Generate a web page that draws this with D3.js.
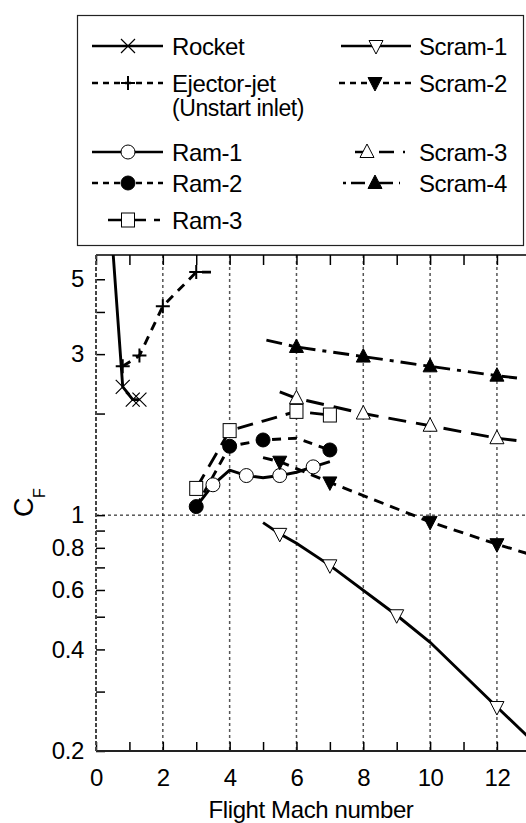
<!DOCTYPE html>
<html>
<head>
<meta charset="utf-8">
<script src="https://cdn.jsdelivr.net/npm/d3@7"></script>
<style>
  body { margin: 0; background: #fff; }
  text { font-family: "Liberation Sans", Arial, sans-serif; letter-spacing: -0.4px; }
</style>
</head>
<body>
<script>
// flight Mach number vs thrust coefficient C_F (log scale)
// each point: [mach, cf, hasMarker]
const rocket = [[0.5, 6.2, 0], [0.8, 2.4, 1], [1.1, 2.2, 1], [1.3, 2.2, 1]];
const ejector = [[0.8, 2.76, 1], [1.3, 2.97, 1], [2, 4.16, 1], [3, 5.25, 1], [3.5, 5.25, 0]];
const ram1 = [[3, 1.06, 0], [3.5, 1.23, 1], [4, 1.36, 0], [4.5, 1.31, 1], [5, 1.29, 0], [5.5, 1.31, 1], [6, 1.34, 0], [6.5, 1.39, 1], [7, 1.44, 0]];
const ram2 = [[3, 1.06, 1], [4, 1.6, 1], [5, 1.67, 1], [6, 1.69, 0], [7, 1.56, 1]];
const ram3 = [[3, 1.2, 1], [4, 1.78, 1], [5, 1.9, 0], [6, 2.03, 1], [7, 1.98, 1]];
const scram1 = [[5, 0.95, 0], [5.5, 0.88, 1], [6, 0.825, 0], [7, 0.71, 1], [9, 0.505, 1], [10, 0.42, 0], [12, 0.27, 1], [12.9, 0.222, 0]];
const scram2 = [[5, 1.48, 0], [5.5, 1.44, 1], [7, 1.25, 1], [10, 0.955, 1], [12, 0.82, 1], [12.9, 0.77, 0]];
const scram3 = [[5.5, 2.32, 0], [6, 2.22, 1], [8, 2.0, 1], [10, 1.84, 1], [12, 1.69, 1], [12.9, 1.65, 0]];
const scram4 = [[5.1, 3.3, 0], [6, 3.15, 1], [8, 2.95, 1], [10, 2.76, 1], [12, 2.59, 1], [12.6, 2.55, 0]];

const machTicks = [0, 1, 2, 3, 4, 5, 6, 7, 8, 9, 10, 11, 12];
const machLabels = [0, 2, 4, 6, 8, 10, 12];
const machGrid = [2, 4, 6, 8, 10, 12];
const cfTicks = [0.2, 0.3, 0.4, 0.5, 0.6, 0.7, 0.8, 0.9, 1, 2, 3, 4, 5];
const cfLabels = [0.2, 0.4, 0.6, 0.8, 1, 3, 5];

const series = [
  { name: "Rocket", data: rocket, dash: null, marker: "x" },
  { name: "Ejector-jet", sub: "(Unstart inlet)", data: ejector, dash: "9,7", marker: "plus" },
  { name: "Ram-1", data: ram1, dash: null, marker: "circle" },
  { name: "Ram-2", data: ram2, dash: "9,7", marker: "dot" },
  { name: "Ram-3", data: ram3, dash: "16,9", marker: "square" },
  { name: "Scram-1", data: scram1, dash: null, marker: "triDown" },
  { name: "Scram-2", data: scram2, dash: "10,7", marker: "triDownFilled" },
  { name: "Scram-3", data: scram3, dash: "18,10", marker: "triUp" },
  { name: "Scram-4", data: scram4, dash: "16,7,4,7", marker: "triUpFilled" }
];

const width = 526, height = 823;
const margin = { top: 255, right: 0, bottom: 72, left: 96 };
const plotBottom = height - margin.bottom;

const svg = d3.select("body").append("svg").attr("width", width).attr("height", height);

let x = d3.scaleLinear().domain([0, 12.87]).range([margin.left, width - margin.right]);
let y = d3.scaleLog().domain([0.2, 5.9]).range([plotBottom, margin.top]);

svg.append("clipPath").attr("id", "plot-clip")
  .append("rect")
  .attr("x", margin.left).attr("y", margin.top)
  .attr("width", width - margin.left).attr("height", plotBottom - margin.top);

// grid lines
svg.append("g").selectAll("line").data(machGrid).enter().append("line")
  .attr("x1", d => x(d)).attr("x2", d => x(d))
  .attr("y1", margin.top).attr("y2", plotBottom)
  .attr("stroke", "#555").attr("stroke-width", 1.5).attr("stroke-dasharray", "3,3");
svg.append("line")
  .attr("x1", margin.left).attr("x2", width)
  .attr("y1", y(1)).attr("y2", y(1))
  .attr("stroke", "#000").attr("stroke-width", 1).attr("stroke-dasharray", "3,3");

// markers
let drawMarker = function (g, type, cx, cy) {
  let m = g.append("g").attr("transform", `translate(${cx},${cy})`);
  if (type === "x") {
    m.append("path").attr("d", "M-7,-7L7,7M-7,7L7,-7").attr("stroke", "#000").attr("stroke-width", 1.2);
  } else if (type === "plus") {
    m.append("path").attr("d", "M-7,0H7M0,-7V7").attr("stroke", "#000").attr("stroke-width", 2);
  } else if (type === "circle" || type === "dot") {
    m.append("circle").attr("r", 7).attr("fill", type === "dot" ? "#000" : "#fff").attr("stroke", "#000").attr("stroke-width", 1);
  } else if (type === "square") {
    m.append("rect").attr("x", -6.5).attr("y", -7).attr("width", 13).attr("height", 14).attr("fill", "#fff").attr("stroke", "#000").attr("stroke-width", 1);
  } else {
    let up = type.startsWith("triUp");
    let filled = type.endsWith("Filled");
    m.append("path").attr("d", up ? "M0,-8L7,5.5H-7Z" : "M0,8L7,-5.5H-7Z")
      .attr("fill", filled ? "#000" : "#fff").attr("stroke", "#000").attr("stroke-width", 1);
  }
};

// series lines
let line = d3.line().x(d => x(d[0])).y(d => y(d[1]));
let plot = svg.append("g").attr("clip-path", "url(#plot-clip)");
series.forEach(s => {
  plot.append("path")
    .datum(s.data)
    .attr("d", line)
    .attr("fill", "none")
    .attr("stroke", "#000")
    .attr("stroke-width", 2.9)
    .attr("stroke-dasharray", s.dash);
});
let markers = svg.append("g");
series.forEach(s => {
  s.data.filter(d => d[2]).forEach(d => {
    if (y(d[1]) < margin.top) return;
    drawMarker(markers, s.marker, x(d[0]), y(d[1]));
  });
});

// axes
let styleAxis = function (g) {
  g.select(".domain").remove();
  g.selectAll(".tick line").attr("stroke", "#000").attr("stroke-width", 1.5);
  g.selectAll(".tick text").attr("fill", "#000").attr("font-size", 24)
    .attr("font-family", "'Liberation Sans', Arial, sans-serif");
};

svg.append("g")
  .attr("transform", `translate(0,${plotBottom})`)
  .call(d3.axisBottom(x).tickValues(machTicks).tickSizeInner(-9).tickSizeOuter(0).tickPadding(18)
    .tickFormat(d => machLabels.includes(d) ? d : ""))
  .call(styleAxis);

svg.append("g")
  .attr("transform", `translate(0,${margin.top})`)
  .call(d3.axisTop(x).tickValues(machTicks).tickSizeInner(-10).tickSizeOuter(0).tickFormat(""))
  .call(styleAxis);

svg.append("g")
  .attr("transform", `translate(${margin.left},0)`)
  .call(d3.axisLeft(y).tickValues(cfTicks).tickSizeInner(-9).tickSizeOuter(0).tickPadding(12)
    .tickFormat(d => cfLabels.includes(d) ? String(d) : ""))
  .call(styleAxis);

// frame lines
svg.append("line").attr("x1", margin.left).attr("x2", width).attr("y1", plotBottom).attr("y2", plotBottom)
  .attr("stroke", "#222").attr("stroke-width", 2);
svg.append("line").attr("x1", margin.left).attr("x2", width).attr("y1", margin.top).attr("y2", margin.top)
  .attr("stroke", "#000").attr("stroke-width", 1.5);
svg.append("line").attr("x1", margin.left).attr("x2", margin.left).attr("y1", margin.top).attr("y2", plotBottom)
  .attr("stroke", "#444").attr("stroke-width", 2).attr("stroke-dasharray", "4,2");

// axis titles
svg.append("text")
  .attr("x", (margin.left + width) / 2).attr("y", 818)
  .attr("text-anchor", "middle").attr("font-size", 24)
  .text("Flight Mach number");

let yTitle = svg.append("text")
  .attr("transform", "translate(33,517) rotate(-90)")
  .attr("font-size", 27);
yTitle.append("tspan").text("C");
yTitle.append("tspan").attr("font-size", 16).attr("dy", 12).text("F");

// legend
const legendRows = [46, 83, 152, 183, 220];
const legendLayout = [
  { col: 0, row: 0, x1: 92, x2: 163, mx: 128, legendDash: null },
  { col: 0, row: 1, x1: 92, x2: 163, mx: 128, legendDash: "6,5" },
  { col: 0, row: 2, x1: 92, x2: 163, mx: 128, legendDash: null },
  { col: 0, row: 3, x1: 92, x2: 163, mx: 128, legendDash: "6,5" },
  { col: 0, row: 4, x1: 108, x2: 160, mx: 128, legendDash: "15,8" },
  { col: 1, row: 0, x1: 341, x2: 411, mx: 376, legendDash: null },
  { col: 1, row: 1, x1: 339, x2: 411, mx: 375, legendDash: "6,5" },
  { col: 1, row: 2, x1: 355, x2: 405, mx: 367, legendDash: "15,9" },
  { col: 1, row: 3, x1: 343, x2: 400, mx: 375, legendDash: "3,5,14,6" }
];
const legendTextX = [172, 419];

let legend = svg.append("g");
legend.append("rect").attr("x", 77.5).attr("y", 15.5).attr("width", 446).attr("height", 230)
  .attr("fill", "#fff").attr("stroke", "#222").attr("stroke-width", 1.2);

series.forEach((s, i) => {
  let l = legendLayout[i];
  let cy = legendRows[l.row];
  legend.append("line")
    .attr("x1", l.x1).attr("x2", l.x2).attr("y1", cy).attr("y2", cy)
    .attr("stroke", "#000").attr("stroke-width", 2.4)
    .attr("stroke-dasharray", l.legendDash);
  drawMarker(legend, s.marker, l.mx, cy);
  legend.append("text")
    .attr("x", legendTextX[l.col]).attr("y", cy + 9)
    .attr("font-size", 24)
    .text(s.name);
  if (s.sub) {
    legend.append("text")
      .attr("x", legendTextX[l.col]).attr("y", cy + 33)
      .attr("font-size", 23)
      .text(s.sub);
  }
});
</script>
</body>
</html>
